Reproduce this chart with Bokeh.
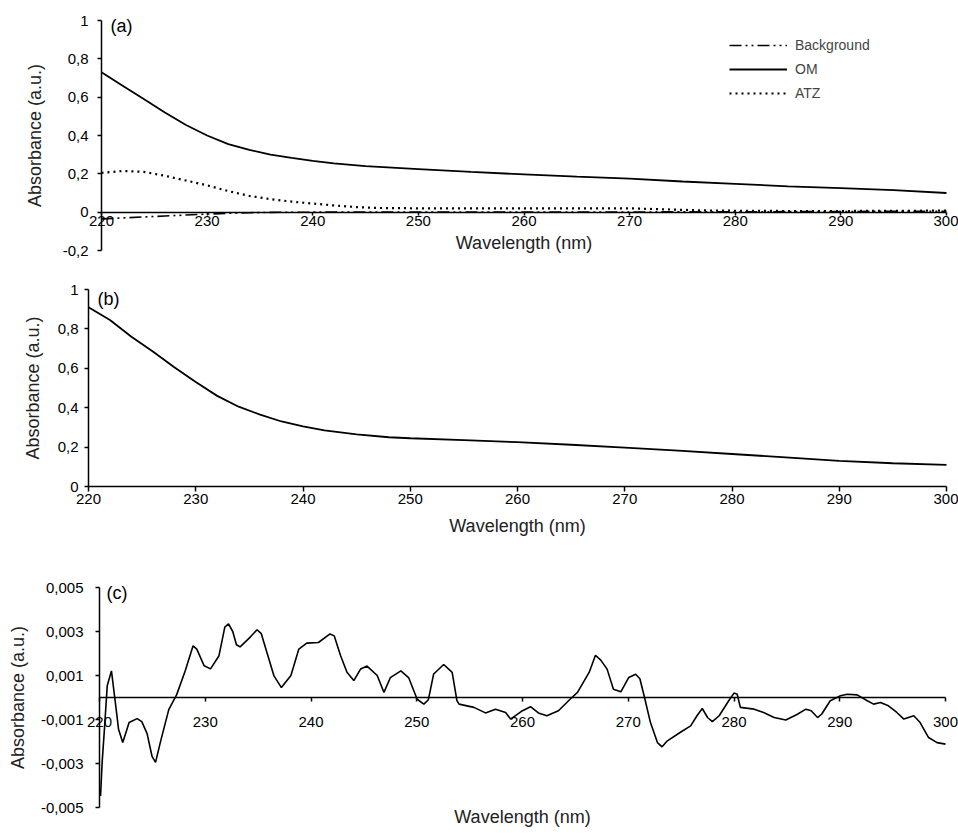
from bokeh.plotting import figure
from bokeh.models import (Range1d, FixedTicker, CustomJSTickFormatter, Label,
                          Legend, LegendItem)
from bokeh.embed import file_html
from bokeh.resources import INLINE

# ---------------- data ----------------
X_TICKS = [220, 230, 240, 250, 260, 270, 280, 290, 300]
A_YTICKS = [-0.2, 0, 0.2, 0.4, 0.6, 0.8, 1]
B_YTICKS = [0, 0.2, 0.4, 0.6, 0.8, 1]
C_YTICKS = [-0.005, -0.003, -0.001, 0.001, 0.003, 0.005]

# panel (a)
wl_bg = [220, 222, 224, 226, 228, 230, 232, 234, 236, 240, 260, 280, 300]
bg = [-0.035, -0.03, -0.025, -0.02, -0.015, -0.01, -0.006, -0.003, -0.001,
      0.0, 0.0, 0.002, 0.005]

wl_om = [220, 222, 224, 226, 228, 230, 232, 234, 236, 238, 240, 242, 245, 250,
         255, 260, 265, 270, 275, 280, 285, 290, 295, 300]
om = [0.73, 0.66, 0.59, 0.52, 0.455, 0.40, 0.355, 0.325, 0.30, 0.283, 0.268,
      0.255, 0.24, 0.225, 0.21, 0.197, 0.185, 0.175, 0.16, 0.148, 0.135, 0.125,
      0.115, 0.10]

wl_atz = [220, 222, 224, 226, 228, 230, 232, 234, 236, 238, 240, 242, 244, 246,
          250, 260, 270, 275, 278, 285, 290, 300]
atz = [0.205, 0.215, 0.21, 0.19, 0.165, 0.14, 0.11, 0.085, 0.068, 0.055, 0.045,
       0.035, 0.027, 0.022, 0.02, 0.02, 0.02, 0.012, 0.008, 0.006, 0.006, 0.008]

# panel (b)
wl_b = [220, 222, 224, 226, 228, 230, 232, 234, 236, 238, 240, 242, 245, 248,
        250, 255, 260, 265, 270, 275, 280, 285, 290, 295, 300]
absb = [0.91, 0.845, 0.76, 0.685, 0.605, 0.53, 0.46, 0.405, 0.365, 0.33, 0.305,
        0.285, 0.265, 0.25, 0.245, 0.235, 0.225, 0.212, 0.197, 0.182, 0.165,
        0.148, 0.13, 0.118, 0.11]

# panel (c)
wl_c = [220.1, 220.25, 220.5, 220.73, 221.13, 221.5, 221.8, 222.2, 222.8, 223.56,
        224.0, 224.5, 224.97, 225.3, 225.8, 226.55, 227.3, 228.1, 228.85, 229.2,
        229.9, 230.5, 231.3, 231.85, 232.2, 232.6, 232.95, 233.3, 234.3, 234.9,
        235.3, 235.86, 236.5, 237.2, 238.1, 238.85, 239.6, 240.7, 241.8, 242.2,
        242.8, 243.4, 244.05, 244.7, 245.3, 246.26, 246.9, 247.5, 248.5, 249.25,
        250.04, 250.67, 251.1, 251.6, 252.55, 253.35, 253.8, 254.0, 255.4, 256.5,
        257.45, 258.4, 258.87, 260.0, 260.76, 261.5, 262.3, 263.4, 264.5, 265.2,
        266.3, 266.9, 267.4, 268.0, 268.6, 269.3, 270.05, 270.7, 271.1, 271.5,
        272.1, 272.76, 273.2, 273.7, 274.9, 275.9, 276.5, 277.0, 277.5, 277.95,
        278.6, 279.5, 280.0, 280.3, 280.6, 281.9, 282.8, 283.8, 284.9, 286.0,
        286.8, 287.3, 287.9, 288.3, 289.1, 290.07, 290.7, 291.65, 292.6, 293.2,
        293.85, 294.6, 295.4, 296.06, 297.0, 297.6, 298.4, 299.2, 300.0]
absc = [-0.00447, -0.00295, -0.0012, 0.00053, 0.00121, -0.00023, -0.00144, -0.00205, -0.00114, -0.00096,
        -0.0011, -0.00164, -0.00268, -0.00295, -0.00195, -0.00055, 0.00013, 0.0012, 0.00235, 0.0022,
        0.00144, 0.0013, 0.0019, 0.0032, 0.00335, 0.003, 0.0024, 0.0023, 0.00277, 0.00308,
        0.0029, 0.002, 0.00098, 0.00045, 0.001, 0.0022, 0.00247, 0.0025, 0.00289, 0.0028,
        0.0019, 0.00115, 0.00077, 0.0013, 0.00143, 0.001, 0.00023, 0.0009, 0.00121, 0.00089,
        -0.00008, -0.0003, -0.0001, 0.00107, 0.0015, 0.00114, -0.00014, -0.0003, -0.00045, -0.0007,
        -0.00053, -0.00068, -0.00098, -0.0006, -0.00042, -0.0007, -0.00083, -0.0006, -0.00008, 0.00023,
        0.00114, 0.00192, 0.0017, 0.00129, 0.00038, 0.00026, 0.00091, 0.00106, 0.00085, 0.00008,
        -0.00114, -0.00205, -0.00224, -0.00197, -0.00159, -0.00129, -0.00083, -0.0005, -0.00091, -0.0011,
        -0.00083, -0.00015, 0.0002, 0.00015, -0.00045, -0.00053, -0.00068, -0.00091, -0.00102, -0.00076,
        -0.00053, -0.0006, -0.00091, -0.00075, -0.00015, 0.00008, 0.00015, 0.00012, -0.00015, -0.0003,
        -0.00023, -0.00038, -0.00068, -0.00098, -0.00083, -0.00114, -0.00182, -0.00205, -0.00212]

# ---------------- styling / layout ----------------
FONT = "Liberation Sans"
TICK_FS = "15px"
LABEL_FS = "18px"
W = 958


def x_range_for(px_left, px_right):
    # frame covers the whole figure; 220 sits at px_left, 300 at px_right
    k = (px_right - px_left) / (X_TICKS[-1] - X_TICKS[0])
    return Range1d(X_TICKS[0] - px_left / k, X_TICKS[-1] + (W - px_right) / k)


def y_range_for(v_top, px_top, v_bot, px_bot, h):
    k = (px_bot - px_top) / (v_top - v_bot)
    return Range1d(v_bot - (h - px_bot) / k, v_top + px_top / k)


def make(h, xr, yr, yticks):
    p = figure(width=W, height=h, x_range=xr, y_range=yr,
               output_backend="svg", toolbar_location=None,
               min_border=0, min_border_left=0, min_border_right=0,
               min_border_top=0, min_border_bottom=0)
    p.xgrid.visible = False
    p.ygrid.visible = False
    p.outline_line_color = None
    p.background_fill_color = "white"
    p.border_fill_color = "white"
    p.xaxis.ticker = FixedTicker(ticks=X_TICKS)
    p.yaxis.ticker = FixedTicker(ticks=yticks)
    p.yaxis.formatter = CustomJSTickFormatter(
        code="return String(tick).replace('.', ',');")
    p.xaxis.fixed_location = 0
    p.yaxis.fixed_location = X_TICKS[0]
    p.xaxis.bounds = (X_TICKS[0], X_TICKS[-1])
    p.yaxis.bounds = (yticks[0], yticks[-1])
    for ax in p.axis:
        ax.axis_line_width = 1.5
        ax.axis_line_color = "black"
        ax.major_tick_line_width = 1.5
        ax.major_tick_line_color = "black"
        ax.minor_tick_line_color = None
        ax.major_tick_in = 0
        ax.major_tick_out = 4
        ax.major_label_text_font = FONT
        ax.major_label_text_font_size = TICK_FS
        ax.major_label_text_color = "black"
        ax.axis_label_text_font = FONT
        ax.axis_label_text_font_size = LABEL_FS
        ax.axis_label_text_font_style = "normal"
        ax.axis_label_text_color = "#222222"
    p.yaxis.axis_label = "Absorbance (a.u.)"
    p.xaxis.axis_label = "Wavelength (nm)"
    return p


def panel_label(p, txt, y, dx, dy):
    p.add_layout(Label(x=X_TICKS[0], y=y, text=txt, x_offset=dx, y_offset=dy,
                       text_baseline="top", text_font=FONT,
                       text_font_size="18px", text_color="black"))


# ---- (a) ----  figure rows 0..262
HA = 262
pa = make(HA, x_range_for(101, 946), y_range_for(1, 20, -0.2, 250, HA), A_YTICKS)
pa.xaxis.major_tick_out = 3
pa.xaxis.major_label_standoff = 1
pa.xaxis.axis_label_standoff = 3
pa.yaxis.major_label_standoff = 9
pa.yaxis.axis_label_standoff = 15
r_bg = pa.line(wl_bg, bg, line_color="black", line_width=1.6,
               line_dash="12 4 2 4 2 4")
r_om = pa.line(wl_om, om, line_color="black", line_width=1.8)
r_atz = pa.line(wl_atz, atz, line_color="black", line_width=2.2,
                line_dash="2 4")
leg = Legend(items=[LegendItem(label="Background", renderers=[r_bg]),
                    LegendItem(label="OM", renderers=[r_om]),
                    LegendItem(label="ATZ", renderers=[r_atz])],
             location=(729, 159), padding=0, spacing=4, margin=0,
             glyph_width=58, glyph_height=20, label_height=20,
             label_standoff=8, label_text_font=FONT,
             label_text_font_size="14px", border_line_color=None,
             background_fill_alpha=0)
pa.add_layout(leg)
panel_label(pa, "(a)", 1, 9, 5)

# ---- (b) ----  figure rows 262..545
HB = 283
pb = make(HB, x_range_for(88, 946), y_range_for(1, 27, 0, 224, HB), B_YTICKS)
pb.xaxis.major_tick_out = 5
pb.xaxis.major_label_standoff = 2
pb.xaxis.axis_label_standoff = 9
pb.yaxis.major_label_standoff = 6
pb.yaxis.axis_label_standoff = 12
pb.line(wl_b, absb, line_color="black", line_width=1.8)
panel_label(pb, "(b)", 1, 9, 1)

# ---- (c) ----  figure rows 545..832
HC = 287
pc = make(HC, x_range_for(99, 945), y_range_for(0.005, 42, -0.005, 262, HC), C_YTICKS)
pc.xaxis.major_tick_out = 4
pc.xaxis.major_label_standoff = 15
pc.xaxis.axis_label_standoff = 77
pc.yaxis.major_label_standoff = 12
pc.yaxis.axis_label_standoff = 10
pc.line(wl_c, absc, line_color="black", line_width=1.6)
panel_label(pc, "(c)", 0.005, 7, 5)

open("out.html", "w").write(file_html([pa, pb, pc], INLINE))
